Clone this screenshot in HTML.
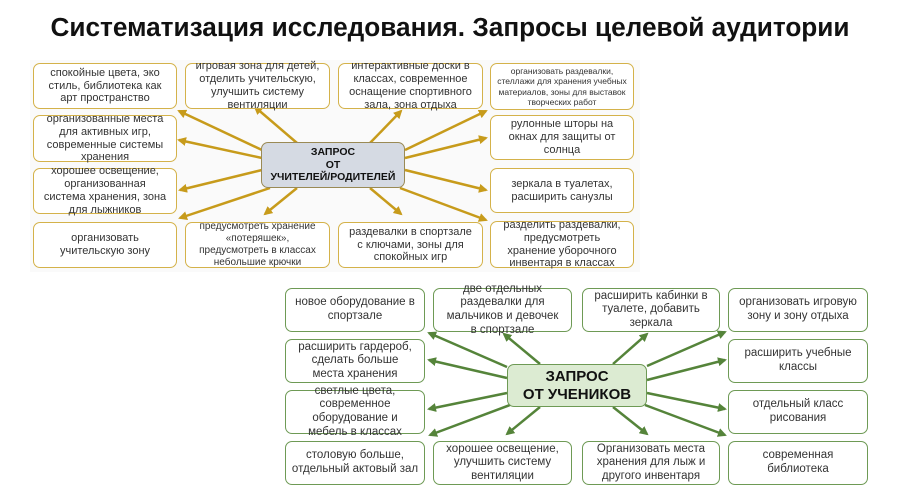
<!DOCTYPE html>
<html><head><meta charset="utf-8"><style>
body{margin:0;width:900px;height:504px;background:#fff;position:relative;overflow:hidden;font-family:"Liberation Sans","DejaVu Sans",sans-serif}
h1{position:absolute;left:0;top:12px;width:900px;margin:0;text-align:center;font-size:26.2px;font-weight:bold;color:#111}
.b{position:absolute;box-sizing:border-box;display:flex;align-items:center;justify-content:center;text-align:center;color:#333;background:#fff;border-radius:7px;line-height:1.18;overflow:visible}
.t{border:1.5px solid #d4b24a;font-size:11px;padding:0 9px}
.g{border:1.5px solid #6e9a55;font-size:11.5px;padding:0 9px}
svg{position:absolute;left:0;top:0}
</style></head><body>
<h1>Систематизация исследования. Запросы целевой аудитории</h1>
<div style="position:absolute;left:30px;top:60px;width:610px;height:212px;background:#fafafa"></div>
<svg width="900" height="504">
<defs>
<marker id="ag" markerWidth="9" markerHeight="9" refX="7" refY="4.5" orient="auto" markerUnits="userSpaceOnUse"><path d="M0,0 L9,4.5 L0,9 z" fill="#c79b1b"/></marker>
<marker id="ar" markerWidth="9" markerHeight="9" refX="7" refY="4.5" orient="auto" markerUnits="userSpaceOnUse"><path d="M0,0 L9,4.5 L0,9 z" fill="#55843a"/></marker>
</defs>
<g stroke="#c79b1b" stroke-width="2.5" marker-end="url(#ag)">
<line x1="262" y1="150" x2="179" y2="111"/>
<line x1="297" y1="143" x2="255" y2="107"/>
<line x1="262" y1="158" x2="179" y2="140"/>
<line x1="262" y1="170" x2="180" y2="190"/>
<line x1="270" y1="188" x2="180" y2="218"/>
<line x1="297" y1="188" x2="265" y2="214"/>
<line x1="370" y1="143" x2="401" y2="111"/>
<line x1="370" y1="188" x2="401" y2="214"/>
<line x1="405" y1="150" x2="486" y2="111"/>
<line x1="405" y1="158" x2="486" y2="138"/>
<line x1="405" y1="170" x2="486" y2="190"/>
<line x1="400" y1="188" x2="486" y2="220"/>
</g>
<g stroke="#55843a" stroke-width="2.5" marker-end="url(#ar)">
<line x1="507" y1="367" x2="429" y2="333"/>
<line x1="540" y1="364" x2="504" y2="334"/>
<line x1="613" y1="364" x2="647" y2="334"/>
<line x1="647" y1="366" x2="725" y2="332"/>
<line x1="507" y1="378" x2="429" y2="360"/>
<line x1="647" y1="380" x2="725" y2="360"/>
<line x1="507" y1="393" x2="429" y2="409"/>
<line x1="647" y1="393" x2="725" y2="409"/>
<line x1="510" y1="405" x2="430" y2="435"/>
<line x1="540" y1="407" x2="507" y2="434"/>
<line x1="613" y1="407" x2="647" y2="434"/>
<line x1="645" y1="405" x2="725" y2="435"/>
</g>
</svg>
<div class="b t" style="left:33px;top:63px;width:144px;height:46px">спокойные цвета, эко стиль, библиотека как арт пространство</div>
<div class="b t" style="left:185px;top:63px;width:145px;height:46px">игровая зона для детей, отделить учительскую, улучшить систему вентиляции</div>
<div class="b t" style="left:338px;top:63px;width:145px;height:46px">интерактивные доски в классах, современное оснащение спортивного зала, зона отдыха</div>
<div class="b t" style="left:490px;top:63px;width:144px;height:47px;font-size:8.5px;padding:0 5px">организовать раздевалки, стеллажи для хранения учебных материалов, зоны для выставок творческих работ</div>
<div class="b t" style="left:33px;top:115px;width:144px;height:47px">организованные места для активных игр, современные системы хранения</div>
<div class="b t" style="left:490px;top:115px;width:144px;height:45px">рулонные шторы на окнах для защиты от солнца</div>
<div class="b t" style="left:33px;top:168px;width:144px;height:46px">хорошее освещение, организованная система хранения, зона для лыжников</div>
<div class="b t" style="left:490px;top:168px;width:144px;height:45px">зеркала в туалетах, расширить санузлы</div>
<div class="b t" style="left:33px;top:222px;width:144px;height:46px">организовать учительскую зону</div>
<div class="b t" style="left:185px;top:222px;width:145px;height:46px;font-size:10px;padding:0 6px">предусмотреть хранение «потеряшек», предусмотреть в классах небольшие крючки</div>
<div class="b t" style="left:338px;top:222px;width:145px;height:46px">раздевалки в спортзале с ключами, зоны для спокойных игр</div>
<div class="b t" style="left:490px;top:221px;width:144px;height:47px">разделить раздевалки, предусмотреть хранение уборочного инвентаря в классах</div>
<div class="b" style="left:261px;top:142px;width:144px;height:46px;background:#d5dae3;border:1.5px solid #9a8a55;font-weight:bold;font-size:10.5px;color:#111">ЗАПРОС<br>ОТ<br>УЧИТЕЛЕЙ/РОДИТЕЛЕЙ</div>

<div class="b g" style="left:285px;top:288px;width:140px;height:44px">новое оборудование в спортзале</div>
<div class="b g" style="left:433px;top:288px;width:139px;height:44px">две отдельных раздевалки для мальчиков и девочек в спортзале</div>
<div class="b g" style="left:582px;top:288px;width:138px;height:44px">расширить кабинки в туалете, добавить зеркала</div>
<div class="b g" style="left:728px;top:288px;width:140px;height:44px">организовать игровую зону и зону отдыха</div>
<div class="b g" style="left:285px;top:339px;width:140px;height:44px">расширить гардероб, сделать больше места хранения</div>
<div class="b g" style="left:728px;top:339px;width:140px;height:44px">расширить учебные классы</div>
<div class="b g" style="left:285px;top:390px;width:140px;height:44px;padding:0 22px">светлые цвета, современное оборудование и мебель в классах</div>
<div class="b g" style="left:728px;top:390px;width:140px;height:44px">отдельный класс рисования</div>
<div class="b g" style="left:285px;top:441px;width:140px;height:44px;padding:0 2px">столовую больше, отдельный актовый зал</div>
<div class="b g" style="left:433px;top:441px;width:139px;height:44px">хорошее освещение, улучшить систему вентиляции</div>
<div class="b g" style="left:582px;top:441px;width:138px;height:44px">Организовать места хранения для лыж и другого инвентаря</div>
<div class="b g" style="left:728px;top:441px;width:140px;height:44px">современная библиотека</div>
<div class="b" style="left:507px;top:364px;width:140px;height:43px;background:#dcebd2;border:1.5px solid #6e9a55;font-weight:bold;font-size:15px;color:#111;line-height:1.2">ЗАПРОС<br>ОТ УЧЕНИКОВ</div>
</body></html>
